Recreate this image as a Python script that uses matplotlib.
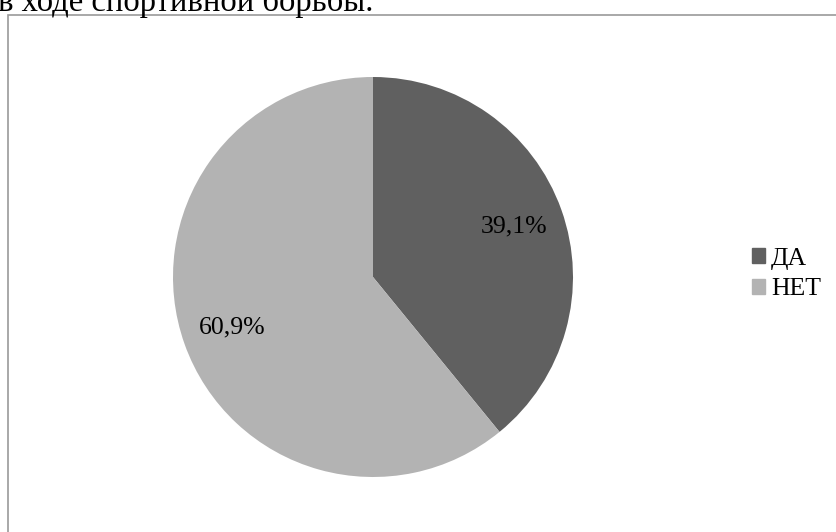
import matplotlib
matplotlib.use("Agg")
import matplotlib.pyplot as plt
from matplotlib.patches import Rectangle

categories = ["ДА", "НЕТ"]
values = [39.1, 60.9]
colors = ["#606060", "#B3B3B3"]
title_text = "в ходе спортивной борьбы."

plt.rcParams['font.family'] = ['Liberation Serif', 'DejaVu Serif']

W, H = 836, 532
fig = plt.figure(figsize=(W / 100, H / 100), dpi=100)

# chart frame (extends beyond image right and bottom)
fig.patches.append(Rectangle((8 / W, -0.1), 1.2, (H - 15) / H + 0.1,
                             transform=fig.transFigure, fill=False,
                             edgecolor="#9A9A9A", linewidth=1.2))

# cut-off caption at the top (as in the reference)
fig.text(-2 / W, 1 - 11 / H, title_text, fontsize=23.5, va='baseline', ha='left')

cx, cy, r = 373, H - 277, 200
ax = fig.add_axes([(cx - r) / W, (cy - r) / H, 2 * r / W, 2 * r / H])


def fmt(p):
    return ("%.1f%%" % p).replace(".", ",")


wedges, texts, autotexts = ax.pie(values, colors=colors, startangle=90,
                                  counterclock=False, autopct=fmt,
                                  pctdistance=0.75,
                                  textprops=dict(fontsize=18.5, color='black'))
ax.set_xlim(-1, 1)
ax.set_ylim(-1, 1)
ax.set_aspect('equal')

handles = [Rectangle((0, 0), 1, 1, color=c) for c in colors]
fig.legend(handles, categories, loc='upper left',
           bbox_to_anchor=(739 / W, 1 - 235 / H), frameon=False,
           fontsize=18.5, handlelength=0.5, handleheight=0.5,
           handletextpad=0.25, labelspacing=0.33, borderpad=0)

fig.savefig("out.png", dpi=100)
